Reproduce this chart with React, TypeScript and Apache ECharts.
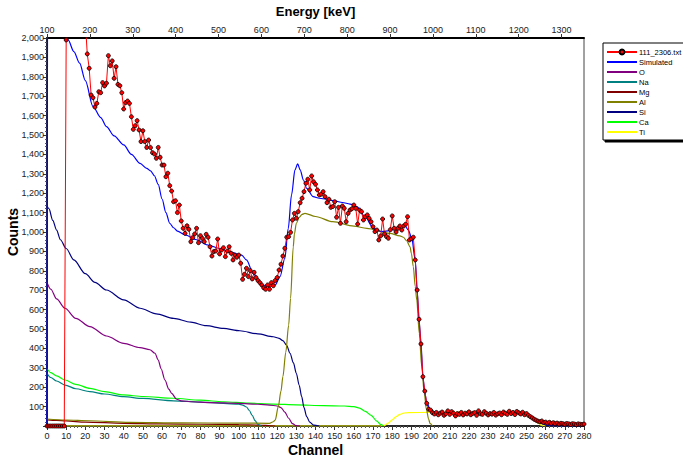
import React, { useEffect, useRef } from "react";
import * as echarts from "echarts";

// Measured spectrum, counts per channel (index = channel 0..280)
const measured: number[] = [
  0, 0, 0, 0, 0, 0, 0, 0, 0, 0,
  1990, 2600, 2900, 3000, 2950, 2850, 2700, 2550, 2400, 2250,
  2080, 1918, 1844, 1706, 1692, 1644, 1663, 1723, 1718, 1770,
  1753, 1767, 1909, 1857, 1882, 1792, 1852, 1761, 1754, 1718,
  1634, 1667, 1675, 1663, 1594, 1529, 1548, 1574, 1526, 1466,
  1522, 1466, 1436, 1474, 1435, 1409, 1402, 1380, 1436, 1385,
  1345, 1345, 1285, 1303, 1239, 1211, 1156, 1161, 1100, 1139,
  1057, 1019, 993, 1032, 1014, 950, 971, 990, 1019, 945,
  981, 967, 950, 988, 973, 924, 876, 899, 902, 964,
  887, 907, 919, 873, 902, 924, 890, 856, 881, 870,
  881, 839, 756, 782, 813, 770, 801, 758, 792, 765,
  750, 739, 727, 712, 705, 727, 705, 739, 723, 750,
  765, 804, 834, 876, 916, 973, 976, 998, 1062, 1096,
  1071, 1105, 1151, 1174, 1208, 1251, 1272, 1217, 1289, 1259,
  1246, 1217, 1191, 1195, 1208, 1182, 1151, 1169, 1127, 1131,
  1156, 1076, 1127, 1045, 1134, 1122, 1053, 1096, 1113, 1120,
  1139, 1122, 1041, 1113, 1105, 1062, 1079, 1088, 1070, 1053,
  1027, 1002, 1010, 959, 980, 1067, 990, 976, 968, 1012,
  1083, 1019, 1000, 1019, 1031, 1010, 1031, 1040, 1079, 959,
  965, 973, 856, 701, 550, 423, 254, 180, 117, 86,
  82, 68, 62, 70, 58, 66, 72, 55, 63, 78,
  60, 74, 66, 52, 64, 60, 70, 57, 66, 62,
  73, 58, 65, 69, 55, 78, 63, 60, 74, 66,
  57, 64, 61, 70, 56, 63, 67, 58, 72, 66,
  60, 76, 64, 70, 59, 75, 68, 62, 71, 58,
  64, 55, 48, 42, 35, 30, 25, 22, 26, 18,
  20, 15, 19, 13, 17, 12, 15, 10, 14, 12,
  9, 13, 11, 8, 12, 10, 7, 11, 9, 8,
  10,
];

// Simulated total
const simCh = [0, 1, 4, 8, 11, 14, 17, 20, 24, 28, 31, 35, 40, 44, 48.5, 52, 54, 56, 58, 60, 62, 64, 66, 68, 72, 78, 84, 90, 96, 101.5, 104, 107.5, 111, 113, 115.4, 117, 119, 121.5, 124, 125.8, 127.5, 129.3, 130.7, 132, 133.7, 135.4, 138.8, 142, 145.8, 150, 154, 158, 161.5, 165.8, 170.2, 174.5, 178.8, 183.2, 186.7, 188.4, 190.2, 192, 193, 194, 195, 196, 197, 198, 200, 202, 205, 210, 220, 230, 240, 246, 250, 252, 254, 256, 258, 260, 263, 266, 280];
const simVal = [0, 6000, 4000, 2600, 1990, 1930, 1870, 1780, 1646, 1590, 1543, 1495, 1449, 1400, 1354, 1328, 1315, 1290, 1245, 1170, 1100, 1045, 1022, 1005, 985, 960, 933, 915, 895, 881, 856, 787, 736, 724, 718, 720, 727, 770, 864, 1019, 1191, 1320, 1351, 1320, 1268, 1225, 1182, 1174, 1169, 1160, 1152, 1144, 1131, 1079, 1019, 1002, 1007, 1024, 1031, 1010, 968, 856, 701, 546, 428, 253, 170, 119, 82, 74, 69, 68, 68, 68, 68, 66, 60, 50, 35, 22, 12, 6, 2, 0, 0];

// Element contributions
const oCh = [0, 2, 5, 9.4, 15, 22.4, 31, 40, 48.5, 53.7, 56.3, 58, 59.5, 61.5, 63.5, 65, 67.6, 70, 75, 85, 100, 110, 116, 120, 122, 124, 126, 128, 130, 132];
const oVal = [740, 705, 655, 607, 555, 512, 464, 426, 404, 393, 375, 340, 295, 237, 190, 168, 138, 130, 125, 121, 117, 112, 108, 103, 95, 72, 40, 12, 2, 0];

const naCh = [0, 2, 5, 9.4, 15, 22.4, 30, 40, 50, 66, 80, 92, 100, 102, 104, 105.5, 107, 108.5, 110, 111.5];
const naVal = [270, 250, 232, 211, 192, 177, 165, 151, 142, 130, 123, 117, 112, 108, 98, 80, 55, 28, 8, 0];

const mgCh = [0, 5, 10, 20, 40, 60, 80, 100, 110, 114, 117, 119];
const mgVal = [32, 29, 26, 20, 14, 11, 9, 7, 5, 3, 1, 0];

const alCh = [0, 10, 22, 43, 70, 100, 116, 118, 119, 120.6, 122, 123, 124.5, 126, 127, 128.4, 129, 130, 131.5, 133, 134.5, 140, 149, 160, 166.7, 178.8, 184, 185.8, 187.5, 189.3, 190, 191, 192, 192.8, 194.1, 195.4, 196.7, 197.9, 199, 199.7, 201];
const alVal = [36, 31, 27, 19, 16, 15, 14, 22, 31, 100, 180, 254, 380, 520, 658, 924, 990, 1045, 1075, 1091, 1096, 1080, 1053, 1030, 1019, 993, 980, 973, 955, 924, 890, 821, 720, 650, 478, 306, 168, 82, 35, 14, 0];

const siCh = [0, 1, 3, 5, 7, 10, 14, 20, 25, 31, 40, 48.5, 57, 66, 75, 83, 92, 100.6, 110, 118, 121, 123, 125, 126.7, 128.5, 130, 131.5, 132.8, 134, 135.4, 137, 139, 142];
const siVal = [1135, 1120, 1060, 1010, 960, 915, 856, 785, 740, 701, 650, 607, 578, 555, 535, 517, 503, 491, 475, 460, 452, 440, 415, 375, 325, 272, 210, 151, 95, 48, 20, 5, 0];

const caCh = [0, 2, 5, 9.4, 15, 22.4, 30, 40, 50, 66, 80, 92, 105, 118, 130, 144, 155, 160, 163, 166, 169, 172, 174, 175.5];
const caVal = [295, 275, 258, 237, 215, 194, 177, 160, 152, 143, 133, 125, 118, 113, 109, 105, 103, 100, 92, 75, 55, 25, 8, 0];

const tiCh = [0, 174, 176, 178, 180, 182, 184, 186, 188, 200, 220, 240, 246, 249, 252, 254, 256, 258, 260];
const tiVal = [0, 0, 3, 15, 32, 48, 60, 67, 69, 70, 70, 68, 65, 58, 46, 32, 15, 4, 0];

const dataName = "111_2306.txt";
const componentNames = ["Simulated", "O", "Na", "Mg", "Al", "Si", "Ca", "Ti"];

const pairs = (xs: number[], ys: number[]) => xs.map((x, i) => [x, ys[i]]);

const FONT = 'Arial, "Liberation Sans", sans-serif';

export default function App() {
  const ref = useRef<HTMLDivElement>(null);
  useEffect(() => {
    if (!ref.current) return;
    const chart = echarts.init(ref.current, undefined, { renderer: "svg" });
    const comp = (name: string, color: string, xs: number[], ys: number[]) => ({
      name,
      type: "line",
      xAxisIndex: 0,
      data: pairs(xs, ys),
      showSymbol: false,
      symbol: "none",
      smooth: 0.3,
      smoothMonotone: "x",
      lineStyle: { color, width: 1.2 },
      itemStyle: { color },
    });
    const legendText = { fontSize: 7.5, fontFamily: FONT, color: "#000", padding: [0, 0, 0, -3] };
    chart.setOption({
      animation: false,
      textStyle: { fontFamily: FONT },
      grid: {
        left: 47,
        right: 99,
        top: 38,
        bottom: 33,
        containLabel: false,
        outerBoundsMode: "none",
        show: true,
        borderColor: "#444",
        borderWidth: 1,
      },
      legend: {
        orient: "vertical",
        left: 603,
        top: 43,
        data: [
          { name: dataName, textStyle: legendText },
          ...componentNames.map((n) => ({
            name: n,
            textStyle: legendText,
            itemStyle: { color: "rgba(0,0,0,0)", borderColor: "rgba(0,0,0,0)", borderWidth: 0, opacity: 0 },
          })),
        ],
        backgroundColor: "#fff",
        borderColor: "#000",
        borderWidth: 1,
        shadowColor: "#000",
        shadowOffsetX: 2,
        shadowOffsetY: 2,
        shadowBlur: 0,
        padding: [5, 8, 4, 3],
        itemWidth: 30,
        itemHeight: 6,
        itemGap: 2,
        textStyle: legendText,
      },
      xAxis: [
        {
          type: "value",
          position: "bottom",
          min: 0,
          max: 280,
          interval: 10,
          name: "Channel",
          nameLocation: "middle",
          nameGap: 17,
          nameMoveOverlap: false,
          nameTextStyle: { fontSize: 14, fontWeight: "bold", color: "#000", fontFamily: FONT },
          axisLine: { show: true, lineStyle: { color: "#000", width: 1.5 } },
          axisTick: { show: true, length: 4, lineStyle: { color: "#333" } },
          minorTick: { show: true, splitNumber: 5, length: 2, lineStyle: { color: "#555" } },
          axisLabel: { fontSize: 9, color: "#222", margin: 5, fontFamily: FONT },
          splitLine: { show: false },
        },
        {
          type: "value",
          position: "top",
          min: 100,
          max: 1352.4,
          interval: 100,
          name: "Energy [keV]",
          nameLocation: "middle",
          nameGap: 20,
          nameMoveOverlap: false,
          nameTextStyle: { fontSize: 13, fontWeight: "bold", color: "#000", fontFamily: FONT },
          axisLine: { show: true, lineStyle: { color: "#000", width: 2 } },
          axisTick: { show: true, length: 4, lineStyle: { color: "#333" } },
          axisLabel: {
            fontSize: 9,
            color: "#222",
            margin: 4,
            fontFamily: FONT,
            showMaxLabel: false,
            formatter: (v: number) => String(v),
          },
          splitLine: { show: false },
        },
      ],
      yAxis: {
        type: "value",
        min: 0,
        max: 2000,
        interval: 100,
        name: "Counts",
        nameLocation: "middle",
        nameGap: 27,
        nameMoveOverlap: false,
        nameTextStyle: { fontSize: 14, fontWeight: "bold", color: "#000", fontFamily: FONT },
        axisLine: { show: true, lineStyle: { color: "#000", width: 1.5 } },
        axisTick: { show: true, length: 4, lineStyle: { color: "#333" } },
        minorTick: { show: true, splitNumber: 5, length: 2, lineStyle: { color: "#555" } },
        axisLabel: {
          fontSize: 9,
          color: "#222",
          margin: 3,
          fontFamily: FONT,
          showMinLabel: false,
        },
        splitLine: { show: false },
      },
      series: [
        comp("Ti", "#FFFF00", tiCh, tiVal),
        comp("Ca", "#00FF00", caCh, caVal),
        comp("Mg", "#800000", mgCh, mgVal),
        comp("Na", "#008080", naCh, naVal),
        comp("O", "#800080", oCh, oVal),
        comp("Si", "#000080", siCh, siVal),
        comp("Al", "#808000", alCh, alVal),
        comp("Simulated", "#0000FF", simCh, simVal),
        {
          name: dataName,
          type: "line",
          xAxisIndex: 0,
          data: measured.map((v, i) => [i, v]),
          symbol: "circle",
          symbolSize: 4,
          showSymbol: true,
          lineStyle: { color: "#FF0000", width: 1 },
          itemStyle: { color: "#FF0000", borderColor: "#000", borderWidth: 0.8 },
        },
      ],
    });
    return () => chart.dispose();
  }, []);
  return <div ref={ref} style={{ width: 683, height: 459, position: "absolute", left: 0, top: 0 }} />;
}
